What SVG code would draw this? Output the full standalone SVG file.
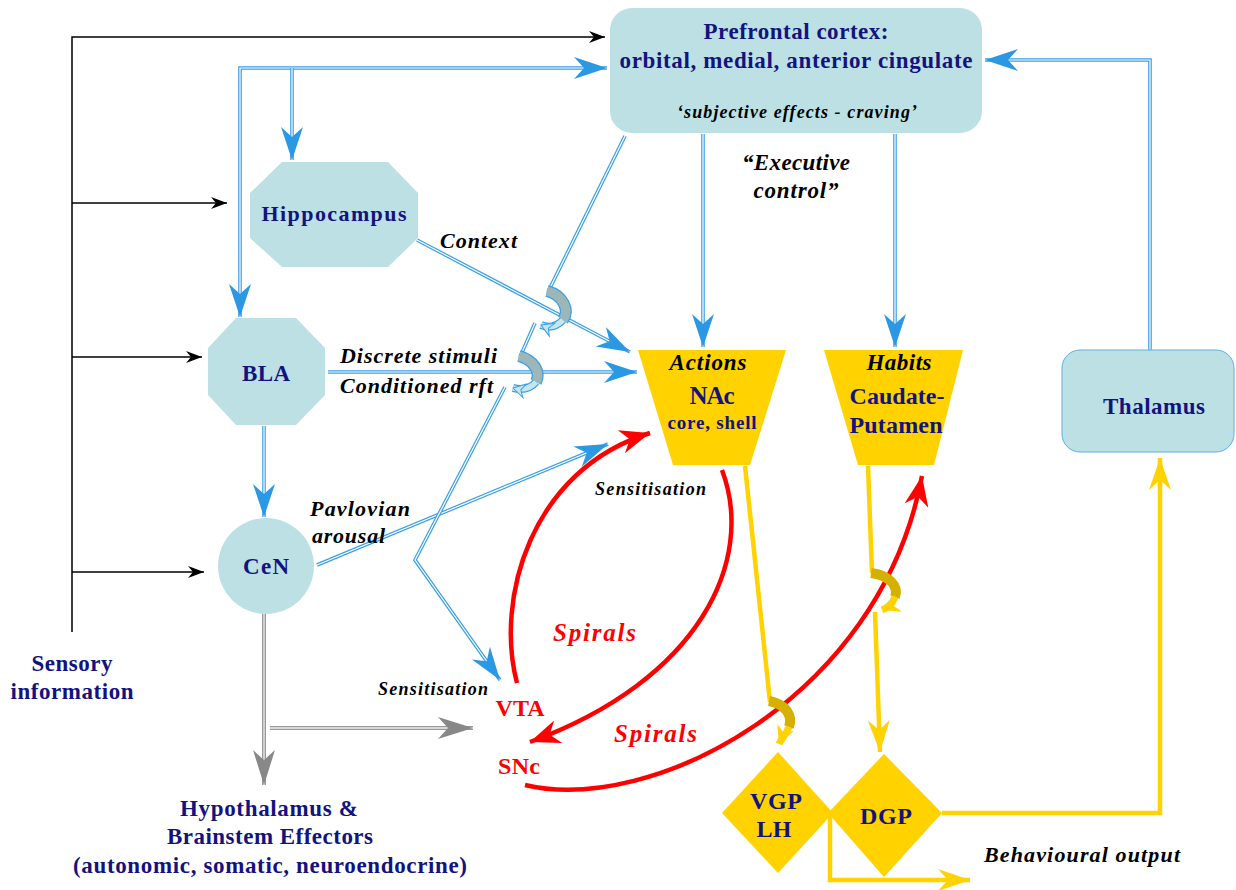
<svg xmlns="http://www.w3.org/2000/svg" width="1236" height="890" viewBox="0 0 1236 890">
<style>
text{font-family:"Liberation Serif","Times New Roman",serif;font-weight:bold}
.nv{fill:#13137f;text-anchor:middle}
.lb{fill:#000;font-style:italic}
.rdt{fill:#ff0000}
.teal{fill:#bde0e4}
.gold{fill:#ffd200}
.blk{fill:none;stroke:#000;stroke-width:1.5}
.bo{fill:none;stroke:#3a9fe6;stroke-width:3.6}
.bi{fill:none;stroke:#fff;stroke-width:1.2}
.go{fill:none;stroke:#999;stroke-width:4}
.gi{fill:none;stroke:#eee;stroke-width:1.3}
.yl{fill:none;stroke:#ffd200;stroke-width:4.5}
.rl{fill:none;stroke:#ff0000;stroke-width:4.5}
</style>
<defs>
<marker id="mBlue" markerUnits="userSpaceOnUse" orient="auto-start-reverse" viewBox="-36 -14 38 28" markerWidth="38" markerHeight="28" refX="0" refY="0"><path d="M0,0 L-33,-11 L-23,0 L-33,11 Z" fill="#2a98e2"/></marker>
<marker id="mGray" markerUnits="userSpaceOnUse" orient="auto" viewBox="-38 -14 40 28" markerWidth="40" markerHeight="28" refX="0" refY="0"><path d="M0,0 L-35,-11 L-25,0 L-35,11 Z" fill="#888"/></marker>
<marker id="mBlack" markerUnits="userSpaceOnUse" orient="auto" viewBox="-20 -8 22 16" markerWidth="22" markerHeight="16" refX="0" refY="0"><path d="M0,0 L-16,-6 L-11,0 L-16,6 Z" fill="#000"/></marker>
<marker id="mGold" markerUnits="userSpaceOnUse" orient="auto" viewBox="-36 -14 38 28" markerWidth="38" markerHeight="28" refX="0" refY="0"><path d="M0,0 L-32,-11 L-22,0 L-32,11 Z" fill="#ffd200"/></marker>
<marker id="mGoldS" markerUnits="userSpaceOnUse" orient="auto" viewBox="-22 -11 24 22" markerWidth="24" markerHeight="22" refX="0" refY="0"><path d="M0,0 L-18,-9 L-12,0 L-18,9 Z" fill="#ffd200"/></marker>
<marker id="mRed" markerUnits="userSpaceOnUse" orient="auto" viewBox="-36 -14 38 28" markerWidth="38" markerHeight="28" refX="0" refY="0"><path d="M0,0 L-30,-12 L-21,0 L-30,12 Z" fill="#ff0000"/></marker>
<marker id="mLB" markerUnits="userSpaceOnUse" orient="auto" viewBox="-16 -9 18 18" markerWidth="18" markerHeight="18" refX="0" refY="0"><path d="M0,0 L-12,-7 L-8,0 L-12,7 Z" fill="#c5e6ee" stroke="#3a9fe6" stroke-width="1"/></marker>
</defs>

<g id="connectors">
<path class="blk" d="M72,632 V37 H605" marker-end="url(#mBlack)"/>
<path class="blk" d="M72,203 H227" marker-end="url(#mBlack)"/>
<path class="blk" d="M72,357 H202" marker-end="url(#mBlack)"/>
<path class="blk" d="M72,572 H204" marker-end="url(#mBlack)"/>
<path class="bo" d="M240,317 V68 H607"/><path class="bi" d="M240,317 V68 H607" marker-start="url(#mBlue)" marker-end="url(#mBlue)"/>
<path class="bo" d="M292,68 V160"/><path class="bi" d="M292,68 V160" marker-end="url(#mBlue)"/>
<path class="bo" d="M417,240 L630,352"/><path class="bi" d="M417,240 L630,352" marker-end="url(#mBlue)"/>
<path class="bo" d="M328,372 H637"/><path class="bi" d="M328,372 H637" marker-end="url(#mBlue)"/>
<path class="bo" d="M264,426 V517"/><path class="bi" d="M264,426 V517" marker-end="url(#mBlue)"/>
<path class="bo" d="M317,565 L608,444"/><path class="bi" d="M317,565 L608,444" marker-end="url(#mBlue)"/>
<path class="bo" d="M625,136 L548,292"/><path class="bi" d="M625,136 L548,292"/>
<path class="bo" d="M535,323 L520,357"/><path class="bi" d="M535,323 L520,357"/>
<path class="bo" d="M505,387 L415,560 L500,680"/><path class="bi" d="M505,387 L415,560 L500,680" marker-end="url(#mBlue)"/>
<path class="bo" d="M703,134 V347"/><path class="bi" d="M703,134 V347" marker-end="url(#mBlue)"/>
<path class="bo" d="M895,134 V347"/><path class="bi" d="M895,134 V347" marker-end="url(#mBlue)"/>
<path class="bo" d="M1150,350 V60 H985"/><path class="bi" d="M1150,350 V60 H985" marker-end="url(#mBlue)"/>
<path d="M547,291 C563,295 570,310 563,320" fill="none" stroke="#3a9fe6" stroke-width="12"/>
<path d="M547,291 C563,295 570,310 563,320" fill="none" stroke="#9db6b8" stroke-width="9.5"/>
<path d="M563,320 C556,327 548,328 541,325" fill="none" stroke="#3a9fe6" stroke-width="8"/>
<path d="M563,320 C556,327 548,328 541,325" fill="none" stroke="#c5e6ee" stroke-width="5.5" marker-end="url(#mLB)"/>
<path d="M519,356 C534,360 541,372 536,382" fill="none" stroke="#3a9fe6" stroke-width="12"/>
<path d="M519,356 C534,360 541,372 536,382" fill="none" stroke="#9db6b8" stroke-width="9.5"/>
<path d="M536,382 C530,389 521,390 513,388" fill="none" stroke="#3a9fe6" stroke-width="8"/>
<path d="M536,382 C530,389 521,390 513,388" fill="none" stroke="#c5e6ee" stroke-width="5.5" marker-end="url(#mLB)"/>
<path class="go" d="M264,614 V785"/><path class="gi" d="M264,614 V785" marker-end="url(#mGray)"/>
<path class="go" d="M270,728 H473"/><path class="gi" d="M270,728 H473" marker-end="url(#mGray)"/>
<path class="yl" d="M745,466 L770,702"/>
<path class="yl" d="M868,466 L872,573"/>
<path class="yl" d="M875,612 L880,752" marker-end="url(#mGold)"/>
<path class="yl" d="M942,813 H1160 V458" marker-end="url(#mGold)"/>
<path class="yl" d="M830,813 V880 H970" marker-end="url(#mGold)"/>
<path class="rl" d="M517,683 C495,600 530,470 650,433" marker-end="url(#mRed)"/>
<path class="rl" d="M722,470 C756,560 700,680 530,742" marker-end="url(#mRed)"/>
<path class="rl" d="M525,785 C650,815 880,700 922,476" marker-end="url(#mRed)"/>
<path d="M769,701 C786,704 793,716 789,727" fill="none" stroke="#d4b000" stroke-width="10"/>
<path d="M789,727 C786,735 781,739 779,744" fill="none" stroke="#ffd200" stroke-width="7" marker-end="url(#mGoldS)"/>
<path d="M871,573 C889,575 899,586 895,597" fill="none" stroke="#d4b000" stroke-width="10"/>
<path d="M895,597 C892,605 887,608 882,610" fill="none" stroke="#ffd200" stroke-width="7" marker-end="url(#mGoldS)"/>
</g>

<g id="prefrontal">
<rect class="teal" x="610" y="8" width="372" height="125" rx="22"/>
<text class="nv" x="796" y="39" font-size="23" textLength="185">Prefrontal cortex:</text>
<text class="nv" x="796" y="68" font-size="23" textLength="353">orbital, medial, anterior cingulate</text>
<text class="lb" x="797" y="118" font-size="18" text-anchor="middle" textLength="240">‘subjective effects - craving’</text>
</g>

<g id="hippocampus">
<polygon class="teal" points="282,162 388,162 418,193 418,238 388,267 282,267 250,238 250,193"/>
<text class="nv" x="334" y="221" font-size="22" textLength="145">Hippocampus</text>
</g>

<g id="bla">
<polygon class="teal" points="236,318 296,318 325,348 325,395 296,425 236,425 208,395 208,348"/>
<text class="nv" x="266" y="381" font-size="23" textLength="48">BLA</text>
</g>

<g id="cen">
<circle class="teal" cx="266" cy="566" r="48"/>
<text class="nv" x="266" y="574" font-size="23" textLength="46">CeN</text>
</g>

<g id="thalamus">
<rect class="teal" x="1062" y="350" width="172" height="102" rx="18" stroke="#5ab0e8" stroke-width="1"/>
<text class="nv" x="1154" y="414" font-size="23" textLength="102">Thalamus</text>
</g>

<g id="nac">
<polygon class="gold" points="638,350 786,350 750,465 673,465"/>
<text class="lb" x="708" y="370" font-size="23" text-anchor="middle" textLength="77">Actions</text>
<text class="nv" x="712" y="404" font-size="25" textLength="45">NAc</text>
<text class="nv" x="712" y="429" font-size="19" textLength="89">core, shell</text>
</g>

<g id="caudate">
<polygon class="gold" points="824,350 963,350 934,465 858,465"/>
<text class="lb" x="899" y="370" font-size="23" text-anchor="middle" textLength="65">Habits</text>
<text class="nv" x="897" y="404" font-size="24" textLength="95">Caudate-</text>
<text class="nv" x="896" y="433" font-size="24" textLength="93">Putamen</text>
</g>

<g id="vgp">
<polygon class="gold" points="778,752 833,813 778,873 722,813"/>
<text class="nv" x="776" y="809" font-size="24" textLength="52">VGP</text>
<text class="nv" x="774" y="837" font-size="24" textLength="35">LH</text>
</g>

<g id="dgp">
<polygon class="gold" points="884,754 942,813 884,877 828,813"/>
<text class="nv" x="886" y="824" font-size="24" textLength="52">DGP</text>
</g>

<g id="vta"><text class="rdt" x="520" y="716" font-size="24" text-anchor="middle" textLength="49">VTA</text></g>
<g id="snc"><text class="rdt" x="519" y="774" font-size="24" text-anchor="middle" textLength="42">SNc</text></g>

<g id="sensory">
<text class="nv" x="72" y="671" font-size="23" textLength="81">Sensory</text>
<text class="nv" x="72" y="699" font-size="23" textLength="123">information</text>
</g>

<g id="hypothalamus">
<text class="nv" x="269" y="816" font-size="23" textLength="178">Hypothalamus &amp;</text>
<text class="nv" x="270" y="844" font-size="23" textLength="206">Brainstem Effectors</text>
<text class="nv" x="270" y="873" font-size="23" textLength="394">(autonomic, somatic, neuroendocrine)</text>
</g>

<g id="labels">
<text class="lb" x="796" y="170" font-size="23" text-anchor="middle" textLength="108">“Executive</text>
<text class="lb" x="796" y="198" font-size="23" text-anchor="middle" textLength="85">control”</text>
<text class="lb" x="440" y="248" font-size="22" textLength="77">Context</text>
<text class="lb" x="340" y="363" font-size="22" textLength="157">Discrete stimuli</text>
<text class="lb" x="340" y="393" font-size="22" textLength="153">Conditioned rft</text>
<text class="lb" x="310" y="516" font-size="22" textLength="100">Pavlovian</text>
<text class="lb" x="312" y="543" font-size="22" textLength="73">arousal</text>
<text class="lb" x="595" y="495" font-size="18" textLength="111">Sensitisation</text>
<text class="lb" x="378" y="695" font-size="18" textLength="110">Sensitisation</text>
<text class="lb" x="984" y="862" font-size="22" textLength="196">Behavioural output</text>
<text class="rdt" x="553" y="641" font-size="25" font-style="italic" font-weight="normal" textLength="83">Spirals</text>
<text class="rdt" x="614" y="742" font-size="25" font-style="italic" font-weight="normal" textLength="83">Spirals</text>
</g>
</svg>
